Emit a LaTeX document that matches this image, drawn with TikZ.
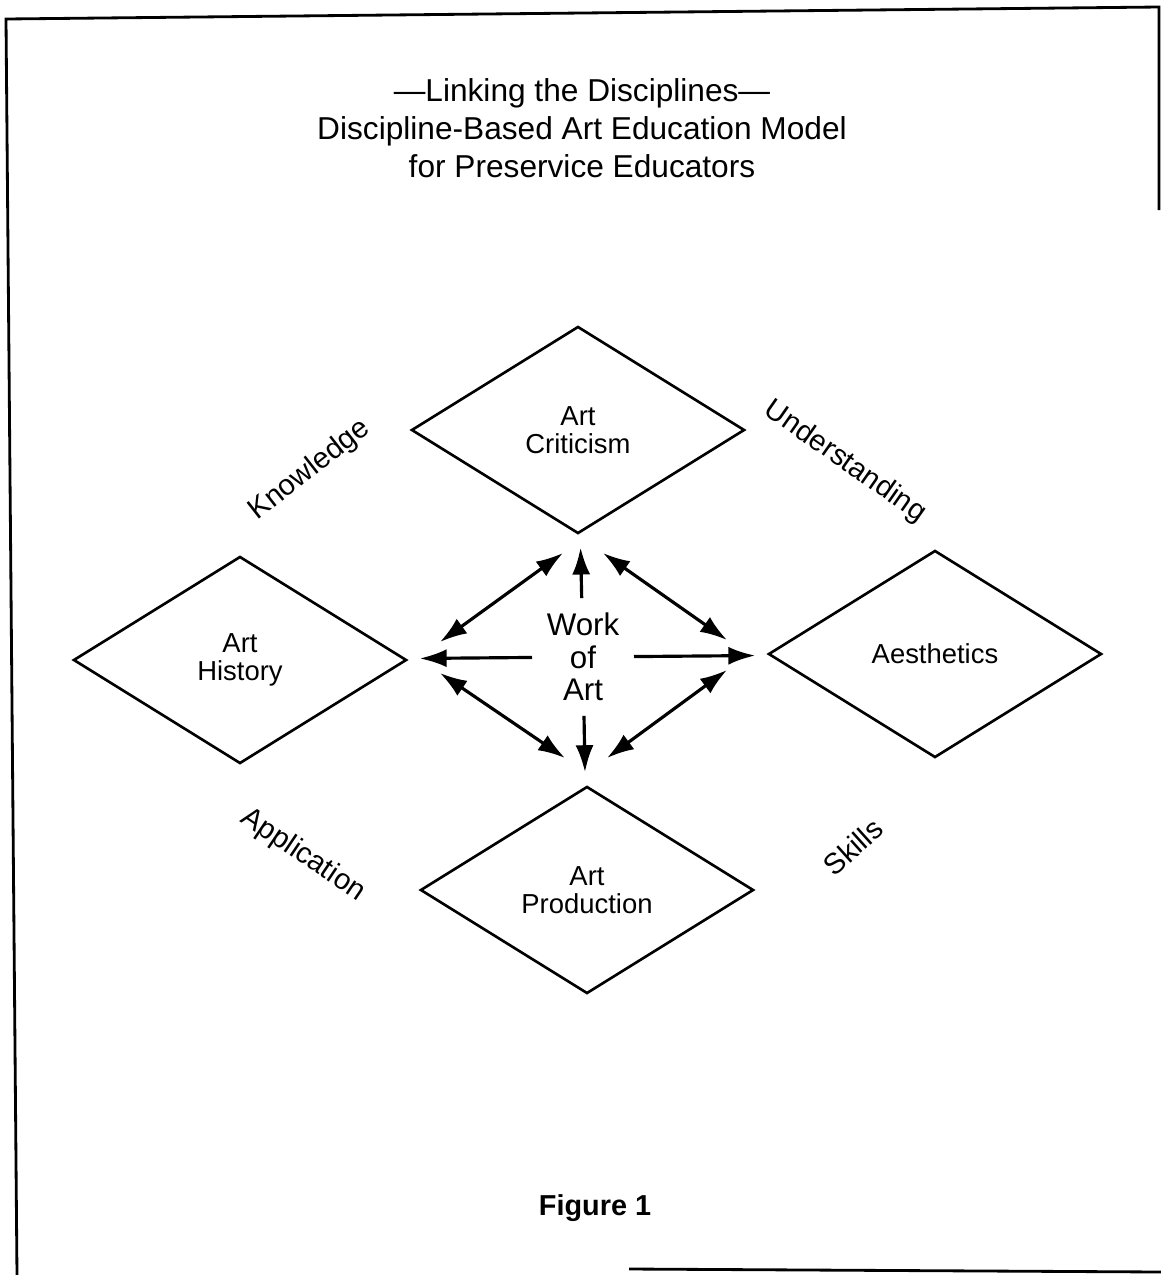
\documentclass[tikz,border=0pt]{standalone}
\usepackage{fontspec}
\setmainfont{Liberation Sans}
\usetikzlibrary{arrows.meta,shapes.geometric}

\begin{document}
\begin{tikzpicture}
  [x=0.01cm,y=-0.01cm,
   every node/.style={font=\fontsize{7.8}{8}\selectfont,align=center},
   disc/.style={diamond,draw,line width=0.75pt,minimum width=3.33cm,minimum height=2.07cm,inner sep=0pt},
   axis/.style={rotate=#1,font=\fontsize{8.3}{9}\selectfont},
   link/.style={line width=0.9pt,-{Latex[length=0.27cm,width=0.18cm]},shorten >=0.14cm},
   both/.style={line width=0.9pt,{Latex[length=0.27cm,width=0.18cm]}-{Latex[length=0.27cm,width=0.18cm]}}]
  \useasboundingbox (0,0) rectangle (1161,1275);
  % frame of the scanned page
  \draw[line width=0.8pt] (17,1275) -- (6,19) -- (1159,7) -- (1159,210);
  \draw[line width=0.8pt] (629,1269) -- (1161,1272);
  \node (title) at (582,128) [font=\fontsize{9}{10.8}\selectfont]
    {—Linking the Disciplines—\\Discipline-Based Art Education Model\\for Preservice Educators};
  % the four disciplines
  \node[disc] (crit) at (578,430) {Art\\Criticism};
  \node[disc] (hist) at (240,660) {Art\\History};
  \node[disc] (aest) at (935,654) {Aesthetics};
  \node[disc] (prod) at (587,890) {Art\\Production};
  \node (work) at (583,657) [font=\fontsize{8.9}{9.3}\selectfont,inner sep=4pt] {Work\\of\\Art};
  \node[axis=38] (know) at (310,470) {Knowledge};
  \node[axis=-35] (under) at (845,462) {Understanding};
  \node[axis=-34] (appl) at (303,855) {Application};
  \node[axis=42] (skill) at (853,847) {Skills};
  \node (fig) at (595,1208) [font=\bfseries\fontsize{8.2}{9}\selectfont] {Figure 1};
  % ends of the double arrows
  \coordinate (nw1) at (440,642); \coordinate (nw2) at (563,553);
  \coordinate (ne1) at (603,553); \coordinate (ne2) at (727,640);
  \coordinate (sw1) at (440,673); \coordinate (sw2) at (565,758);
  \coordinate (se1) at (727,670); \coordinate (se2) at (607,758);
  \foreach \to in {crit,hist,aest,prod}
    \draw[link] (work) -- (\to);
  \foreach \from/\to in {nw1/nw2,ne1/ne2,sw1/sw2,se1/se2}
    \draw[both] (\from) -- (\to);
\end{tikzpicture}
\end{document}
